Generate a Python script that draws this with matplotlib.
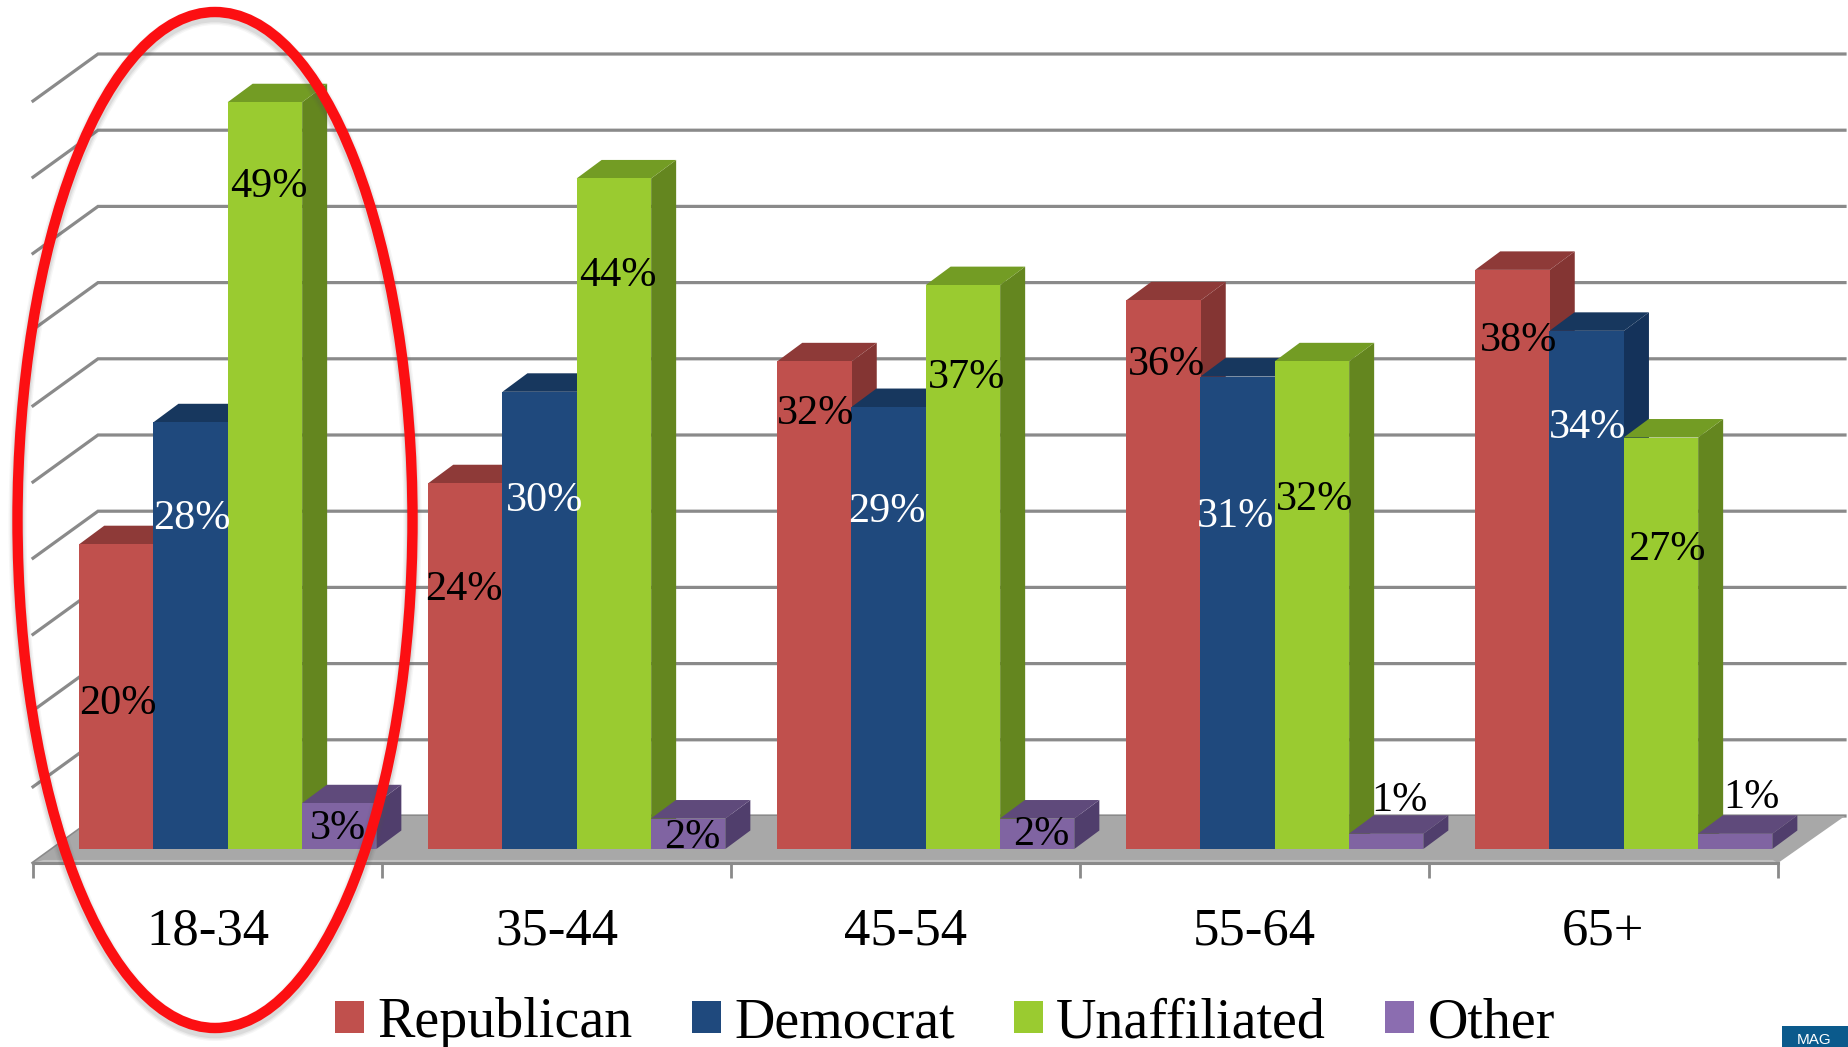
import matplotlib
matplotlib.use("Agg")
import matplotlib.pyplot as plt
from matplotlib.patches import Ellipse, Polygon, Rectangle
from matplotlib.transforms import Affine2D

categories = ["18-34", "35-44", "45-54", "55-64", "65+"]
republican = [20, 24, 32, 36, 38]
democrat = [28, 30, 29, 31, 34]
unaffiliated = [49, 44, 37, 32, 27]
other = [3, 2, 2, 1, 1]
series_names = ["Republican", "Democrat", "Unaffiliated", "Other"]
gridline_values = [0, 5, 10, 15, 20, 25, 30, 35, 40, 45, 50]

W, H = 1848, 1047
PX_CAT = 349.0   # pixels per category
PX_VAL = 15.24   # pixels per percentage point
BASE_Y = 849     # pixel row of value 0 on the bar fronts
AX_L, AX_R, AX_B = 33, 1778, 863

plt.rcParams["font.family"] = ["Liberation Serif", "DejaVu Serif"]
fig = plt.figure(figsize=(W / 100, H / 100), dpi=100, facecolor="white")
ax = fig.add_axes([AX_L / W, (H - AX_B) / H, (AX_R - AX_L) / W, AX_B / H])
ax.set_xlim(0, 5)
ax.set_ylim((BASE_Y - AX_B) / PX_VAL, BASE_Y / PX_VAL)
ax.patch.set_visible(False)
for s in ["top", "left", "right"]:
    ax.spines[s].set_visible(False)
GRID = "#8a8a8a"
ax.spines["bottom"].set_color(GRID)
ax.spines["bottom"].set_linewidth(2.2)
ax.spines["bottom"].set_zorder(2)
ax.set_yticks([])
ax.set_xticks(range(6))
ax.set_xticklabels([])
ax.tick_params(axis="x", which="major", length=11, width=2, color=GRID)
ax.set_xticks([i + 0.5 for i in range(5)], minor=True)
ax.set_xticklabels(categories, minor=True, fontsize=38, color="black")
ax.tick_params(axis="x", which="minor", length=0, pad=32)

# wall / floor geometry (3-D effect) in data units
wall_dx = 65 / PX_CAT
wall_dy = 47 / PX_VAL
y_front = (BASE_Y - AX_B) / PX_VAL
x_end = (1848 - AX_L) / PX_CAT - 0.0086

for v in gridline_values:
    yb = y_front + wall_dy + v
    ax.plot([0, wall_dx, x_end], [yb - wall_dy, yb, yb], color=GRID, lw=2.3,
            zorder=1, clip_on=False, solid_joinstyle="miter")

floor = Polygon([(0, y_front), (wall_dx, y_front + wall_dy), (x_end, y_front + wall_dy), (5, y_front)],
                closed=True, facecolor="#a8a8a8", edgecolor="none", zorder=1.5, clip_on=False)
ax.add_patch(floor)
ax.add_patch(Polygon([(0, y_front), (0.03, 0.2 + y_front), (4.985, 0.2 + y_front), (5, y_front)],
                     closed=True, facecolor="#c2c2c2", edgecolor="none", zorder=1.6, clip_on=False))

# bars
series = [republican, democrat, unaffiliated, other]
front = ["#C0504D", "#1F497D", "#9ACB30", "#8064A2"]
top_c = ["#8E3A38", "#17375E", "#739C24", "#5F4A7B"]
side_c = ["#843533", "#14325A", "#64861F", "#503E6C"]
bar_w = 74.5 / PX_CAT
first_center = (116.5 - AX_L) / PX_CAT
depth_x = 25 / PX_CAT
depth_y = 18.5 / PX_VAL

z = 3.0
for c in range(len(categories)):
    for k, vals in enumerate(series):
        x = c * (1.0) + first_center + k * (74.2 / PX_CAT)
        v = vals[c]
        ax.bar(x, v, width=bar_w, color=front[k], edgecolor="none", zorder=6, clip_on=False)
        x0, x1 = x - bar_w / 2, x + bar_w / 2
        ax.add_patch(Polygon([(x1, 0), (x1 + depth_x, depth_y), (x1 + depth_x, v + depth_y), (x1, v)],
                             closed=True, facecolor=side_c[k], edgecolor="none", zorder=z, clip_on=False))
        z += 0.01
        ax.add_patch(Polygon([(x0, v), (x0 + depth_x, v + depth_y), (x1 + depth_x, v + depth_y), (x1, v)],
                             closed=True, facecolor=top_c[k], edgecolor="none", zorder=z, clip_on=False))
        z += 0.01

# pixel-space overlay transform
px = Affine2D().scale(1, -1).translate(0, H)

# data labels, placed by hand as in the original slide
label_xy = [
    [(118, 704), (192, 519), (269, 187), (338, 829)],
    [(464, 590), (545, 501), (618, 276), (692, 838)],
    [(816, 414), (887, 512), (967, 378), (1041, 835)],
    [(1167, 365), (1236, 517), (1315, 500), (1399, 801)],
    [(1519, 341), (1588, 428), (1667, 550), (1751, 798)],
]
label_color = ["black", "white", "black", "black"]
for c in range(len(categories)):
    for k, vals in enumerate(series):
        lx, ly = label_xy[c][k]
        ax.text(lx, ly, f"{vals[c]}%", transform=px, fontsize=30.3, ha="center", va="center",
                color=label_color[k], zorder=8, clip_on=False)

# red highlight ellipse with soft shadow
for lw, alpha in [(13, 0.05), (11, 0.07), (9, 0.10)]:
    fig.add_artist(Ellipse((215, 524), 395, 1016, transform=px, fill=False,
                           edgecolor="#555555", lw=lw, alpha=alpha, zorder=9))
fig.add_artist(Ellipse((215, 520), 395, 1016, transform=px, fill=False,
                       edgecolor="#FC0F12", lw=7.5, zorder=10))

# legend
handles = [Rectangle((0, 0), 1, 1, facecolor=c, edgecolor="none")
           for c in ["#C0504D", "#1F497D", "#9ACB30", "#8B6DB0"]]
leg = fig.legend(handles, series_names, ncol=4, frameon=False, fontsize=40.3,
                 loc="center", bbox_to_anchor=(945 / W, (H - 1023) / H),
                 handlelength=0.52, handleheight=0.52, handletextpad=0.24,
                 columnspacing=1.05, borderpad=0, labelcolor="black")

# corner logo fragment
fig.add_artist(Rectangle((1782, 1026), 66, 21, transform=px, facecolor="#0B5A8C", edgecolor="none", zorder=11))
fig.text(1797, 1044, "MAG", transform=px, color="white", fontsize=11, family="Liberation Sans",
         ha="left", va="baseline", zorder=12)

fig.savefig("out.png", dpi=100, facecolor="white")
